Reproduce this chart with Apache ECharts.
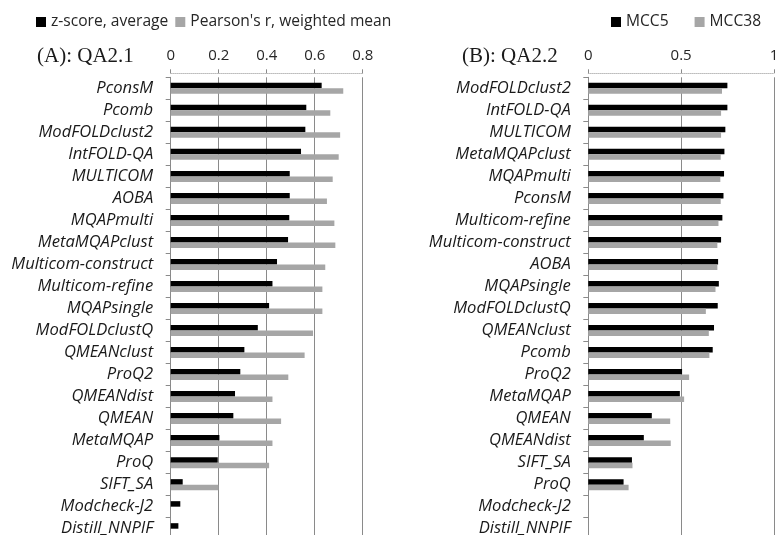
<!DOCTYPE html>
<html>
<head>
<meta charset="utf-8">
<script src="https://cdn.jsdelivr.net/npm/echarts@6/dist/echarts.min.js"></script>
<style>
html,body{margin:0;padding:0;background:#fff;}
#chart{width:781px;height:535px;}
</style>
</head>
<body>
<div id="chart"></div>
<script>
// ---- Data ----
const leftCategories = ['PconsM','Pcomb','ModFOLDclust2','IntFOLD-QA','MULTICOM','AOBA','MQAPmulti','MetaMQAPclust','Multicom-construct','Multicom-refine','MQAPsingle','ModFOLDclustQ','QMEANclust','ProQ2','QMEANdist','QMEAN','MetaMQAP','ProQ','SIFT_SA','Modcheck-J2','Distill_NNPIF'];
const leftZScore = [0.629,0.565,0.561,0.543,0.496,0.496,0.494,0.489,0.443,0.424,0.410,0.363,0.307,0.290,0.268,0.261,0.203,0.196,0.050,0.040,0.032];
const leftPearson = [0.719,0.665,0.706,0.700,0.675,0.651,0.682,0.686,0.644,0.632,0.632,0.593,0.558,0.490,0.424,0.460,0.424,0.410,0.199,null,null];

const rightCategories = ['ModFOLDclust2','IntFOLD-QA','MULTICOM','MetaMQAPclust','MQAPmulti','PconsM','Multicom-refine','Multicom-construct','AOBA','MQAPsingle','ModFOLDclustQ','QMEANclust','Pcomb','ProQ2','MetaMQAP','QMEAN','QMEANdist','SIFT_SA','ProQ','Modcheck-J2','Distill_NNPIF'];
const rightMCC5 = [0.749,0.749,0.738,0.733,0.731,0.728,0.722,0.715,0.699,0.703,0.697,0.677,0.670,0.505,0.493,0.342,0.299,0.235,0.190,null,null];
const rightMCC38 = [0.720,0.715,0.715,0.713,0.711,0.713,0.701,0.695,0.695,0.685,0.633,0.649,0.652,0.543,0.516,0.441,0.444,0.238,0.217,null,null];

const leftAxis = {min:0, max:0.8, interval:0.2};
const rightAxis = {min:0, max:1, interval:0.5};

const leftSeriesNames = ['z-score, average', "Pearson's r, weighted mean"];
const rightSeriesNames = ['MCC5', 'MCC38'];
const leftTitle = '(A): QA2.1';
const rightTitle = '(B): QA2.2';

// ---- Styles ----
const SANS = '"Open Sans", "Liberation Sans", sans-serif';
const SERIF = '"Liberation Serif", "DejaVu Serif", serif';
const BLACK = '#000000';
const GRAY = '#a6a6a6';
const GRID_GRAY = '#8a8a8a';
const BORDER_GRAY = '#bdbdbd';

function xAx(gridIndex, ax) {
  return {
    type:'value', gridIndex, position:'top', offset:4, min:ax.min, max:ax.max, interval:ax.interval,
    axisLine:{show:true, lineStyle:{color:BORDER_GRAY, type:'dotted', width:1}},
    axisTick:{show:true, length:4, lineStyle:{color:GRID_GRAY, width:1}},
    axisLabel:{show:true, margin:10, fontFamily:SANS, fontSize:15, color:'#262626',
      formatter: v => String(+v.toFixed(2))},
    splitLine:{show:true, lineStyle:{color:GRID_GRAY, width:1}}
  };
}
function yAx(gridIndex, cats) {
  return {type:'category', gridIndex, data:cats, inverse:true,
    axisLine:{show:true, lineStyle:{color:GRID_GRAY, width:1}},
    axisTick:{show:true, length:5, lineStyle:{color:GRID_GRAY, width:1}},
    axisLabel:{interval:0, margin:17.5, fontFamily:SANS, fontStyle:'italic', fontSize:16.6, color:'#1a1a1a'},
    splitLine:{show:false}};
}
function bar(name, data, color, idx) {
  return {type:'bar', name, data, xAxisIndex:idx, yAxisIndex:idx,
    barWidth:5.5, barGap:'0%', itemStyle:{color}, silent:true};
}

const chart = echarts.init(document.getElementById('chart'));
chart.setOption({
  animation:false,
  title:[
    {text:leftTitle, left:32, top:41, textStyle:{fontFamily:SERIF, fontSize:21, fontWeight:'normal', color:'#1a1a1a'}},
    {text:rightTitle, left:457, top:41, textStyle:{fontFamily:SERIF, fontSize:21, fontWeight:'normal', color:'#1a1a1a'}}
  ],
  legend:[
    {data:leftSeriesNames, left:36, top:14, padding:0, icon:'rect', itemWidth:10, itemHeight:10, itemGap:7,
      textStyle:{fontFamily:SANS, fontSize:15.6, color:'#262626'}, selectedMode:false},
    {data:rightSeriesNames, left:611, top:14, padding:0, icon:'rect', itemWidth:10, itemHeight:10, itemGap:26,
      textStyle:{fontFamily:SANS, fontSize:15.6, color:'#262626'}, selectedMode:false}
  ],
  grid:[
    {left:170.7, width:192, top:77.3, height:462.4, outerBoundsMode:'none', containLabel:false},
    {left:588.3, width:185.7, top:77.3, height:462.4, outerBoundsMode:'none', containLabel:false}
  ],
  xAxis:[ xAx(0, leftAxis), xAx(1, rightAxis) ],
  yAxis:[ yAx(0, leftCategories), yAx(1, rightCategories) ],
  series:[
    bar(leftSeriesNames[0], leftZScore, BLACK, 0),
    bar(leftSeriesNames[1], leftPearson, GRAY, 0),
    bar(rightSeriesNames[0], rightMCC5, BLACK, 1),
    bar(rightSeriesNames[1], rightMCC38, GRAY, 1)
  ]
});
</script>
</body>
</html>
